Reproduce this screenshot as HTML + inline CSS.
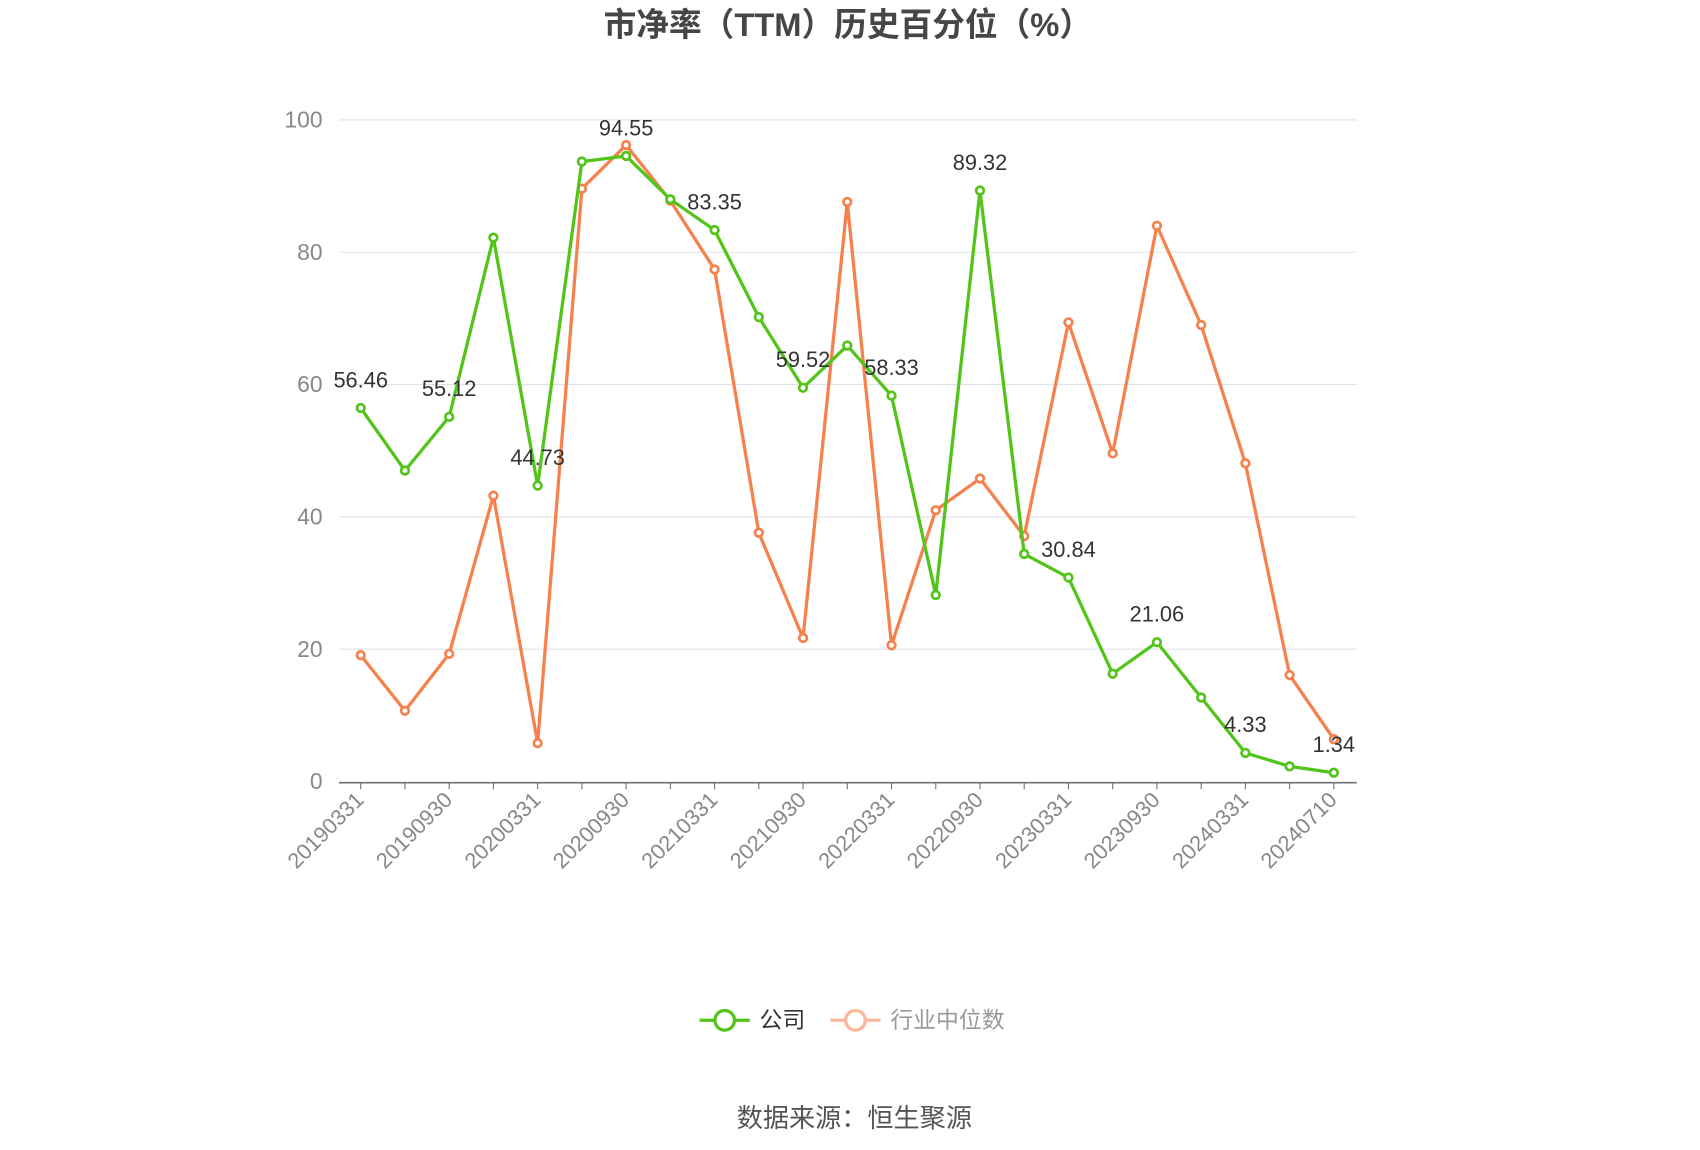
<!DOCTYPE html>
<html><head><meta charset="utf-8"><style>
html,body{margin:0;padding:0;background:#fff;}
svg{display:block;font-family:"Liberation Sans","Noto Sans CJK SC",sans-serif;}
</style></head><body>
<svg id="chart" width="1700" height="1150" viewBox="0 0 1560 1055" preserveAspectRatio="none" xmlns="http://www.w3.org/2000/svg">
<text x="778" y="33" text-anchor="middle" font-size="30" font-weight="bold" fill="#464646">市净率（TTM）历史百分位（%）</text>
<g id="grid"></g><g id="axes"></g><g id="series"></g><g id="labels"></g>
<g>
<g>
<line x1="642" y1="936" x2="688" y2="936" stroke="#52c41a" stroke-width="3"/>
<circle cx="665" cy="936" r="9" fill="#fff" stroke="#52c41a" stroke-width="3"/>
<text x="697" y="943" font-size="21" fill="#333">公司</text></g>
<g>
<line x1="762" y1="936" x2="808" y2="936" stroke="#fbb79a" stroke-width="3"/>
<circle cx="785" cy="936" r="9" fill="#fff" stroke="#fbb79a" stroke-width="3"/>
<text x="817" y="943" font-size="21" fill="#999">行业中位数</text></g>
</g>
<text x="784" y="1034" text-anchor="middle" font-size="24" fill="#555">数据来源：恒生聚源</text>
</svg>
<script>
const categories=["20190331","20190630","20190930","20191231","20200331","20200630","20200930","20201231","20210331","20210630","20210930","20211231","20220331","20220630","20220930","20221231","20230331","20230630","20230930","20231231","20240331","20240630","20240710"];
const companyValues=[56.46,47.0,55.12,82.2,44.73,93.7,94.55,88.0,83.35,70.2,59.52,65.9,58.33,28.2,89.32,34.4,30.84,16.3,21.06,12.7,4.33,2.3,1.34];
const industryValues=[19.1,10.7,19.3,43.2,5.8,89.6,96.2,87.8,77.4,37.6,21.7,87.6,20.6,41.0,45.8,37.1,69.4,49.6,84.0,69.0,48.1,16.1,6.4];
const yTicks=[0,20,40,60,80,100];
const labelIdx=[0,2,4,6,8,10,12,14,16,18,20,22];
const NS="http://www.w3.org/2000/svg";
const X0=331,X1=1224,Y0=717,Y100=110,L=311,R=1245;
const xs=i=>X0+(X1-X0)*i/(categories.length-1);
const ys=v=>Y0-(Y0-Y100)*v/100;
function mk(tag,attrs,parent){const e=document.createElementNS(NS,tag);for(const k in attrs)e.setAttribute(k,attrs[k]);parent.appendChild(e);return e;}
const grid=document.getElementById('grid'),axes=document.getElementById('axes'),series=document.getElementById('series'),labels=document.getElementById('labels');
yTicks.forEach(t=>{
 if(t>0){const g=mk('line',{x1:L,x2:R,y1:ys(t),y2:ys(t),stroke:'#e0e3ec','stroke-width':1},grid);
 
 }
 const tx=mk('text',{x:296,y:ys(t)+7,'text-anchor':'end','font-size':21,fill:'#888'},axes);tx.textContent=t;
 
 
});
const ax=mk('line',{x1:L,x2:R,y1:Y0+1,y2:Y0+1,stroke:'#6e7079','stroke-width':1.5},axes);


categories.forEach((c,i)=>{
 const tk=mk('line',{x1:xs(i),x2:xs(i),y1:Y0+1,y2:Y0+7,stroke:'#6e7079'},axes);
 
 
 if(i%2===0){const t=mk('text',{x:xs(i)+4,y:Y0+18,'text-anchor':'end','font-size':20,fill:'#888',transform:`rotate(-45 ${xs(i)+4} ${Y0+18})`},axes);t.textContent=c;
 
 }
});
function draw(vals,color,name){
 const p=mk('polyline',{points:vals.map((v,i)=>xs(i)+','+ys(v)).join(' '),fill:'none',stroke:color,'stroke-width':3,'stroke-linejoin':'round'},series);
 
 
 vals.forEach((v,i)=>{const c=mk('circle',{cx:xs(i),cy:ys(v),r:3.5,fill:'#fff',stroke:color,'stroke-width':2.5},series);
 
 });
}
draw(industryValues,'#f5814d','industry');
draw(companyValues,'#52c41a','company');
labelIdx.forEach(i=>{const t=mk('text',{x:xs(i),y:ys(companyValues[i])-19,'text-anchor':'middle','font-size':20,fill:'#333'},labels);t.textContent=companyValues[i].toFixed(2);
 
 });
</script>
</body></html>
